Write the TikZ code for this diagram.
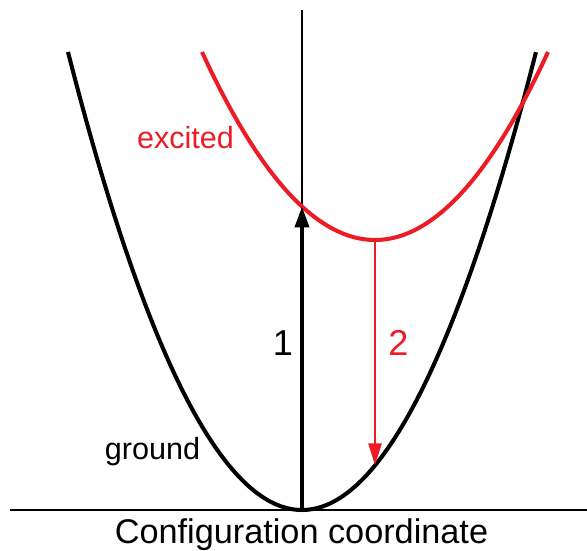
\documentclass[tikz,border=0pt]{standalone}
\usepackage{fontspec}
\setmainfont{Liberation Sans}
\usepackage{tikz}
\usetikzlibrary{arrows.meta}
\definecolor{exred}{RGB}{237,28,36}

\begin{document}
\begin{tikzpicture}[x=0.02cm, y=0.02cm,
    axisline/.style={line width=1.1pt},
    curve/.style={line width=2.3pt, samples=80, smooth},
    lbl/.style={anchor=base, inner sep=0pt, font=\fontsize{17.4pt}{18pt}\selectfont}]
  \useasboundingbox (-302,-40) rectangle (285,510);
  % axes
  \coordinate (xl) at (-292,0);
  \coordinate (xr) at (285,0);
  \coordinate (g0) at (0,0);
  \coordinate (ytop) at (0,500);
  \draw[axisline] (xl) -- (xr);
  \draw[axisline] (g0) -- (ytop);
  \node[lbl, font=\fontsize{19.5pt}{20pt}\selectfont] (xlab) at (-0.5,-33) {Configuration coordinate};
  % potential curves
  \draw[curve] plot[domain=-1:1] ({234*\x}, {458*\x*\x});
  \draw[curve, exred] plot[domain=-1:1] ({73+173*\x}, {270+188*\x*\x});
  \node[lbl, exred] (exc) at (-116.5,361) {excited};
  \node[lbl] (gnd) at (-149.5,50) {ground};
  % transitions
  \coordinate (cross) at (0,303.5);
  \coordinate (emin) at (73,270);
  \coordinate (gland) at (73,44.6);
  \draw[line width=2.3pt, -{Triangle[length=0.42cm, width=0.28cm]}] (g0) -- (cross);
  \draw[line width=1.4pt, exred, -{Triangle[length=0.44cm, width=0.26cm]}] (emin) -- (gland);
  \node[lbl, font=\fontsize{20.5pt}{21pt}\selectfont] (one) at (-19,154) {1};
  \node[lbl, exred, font=\fontsize{20.5pt}{21pt}\selectfont] (two) at (96.5,154) {2};
\end{tikzpicture}
\end{document}
